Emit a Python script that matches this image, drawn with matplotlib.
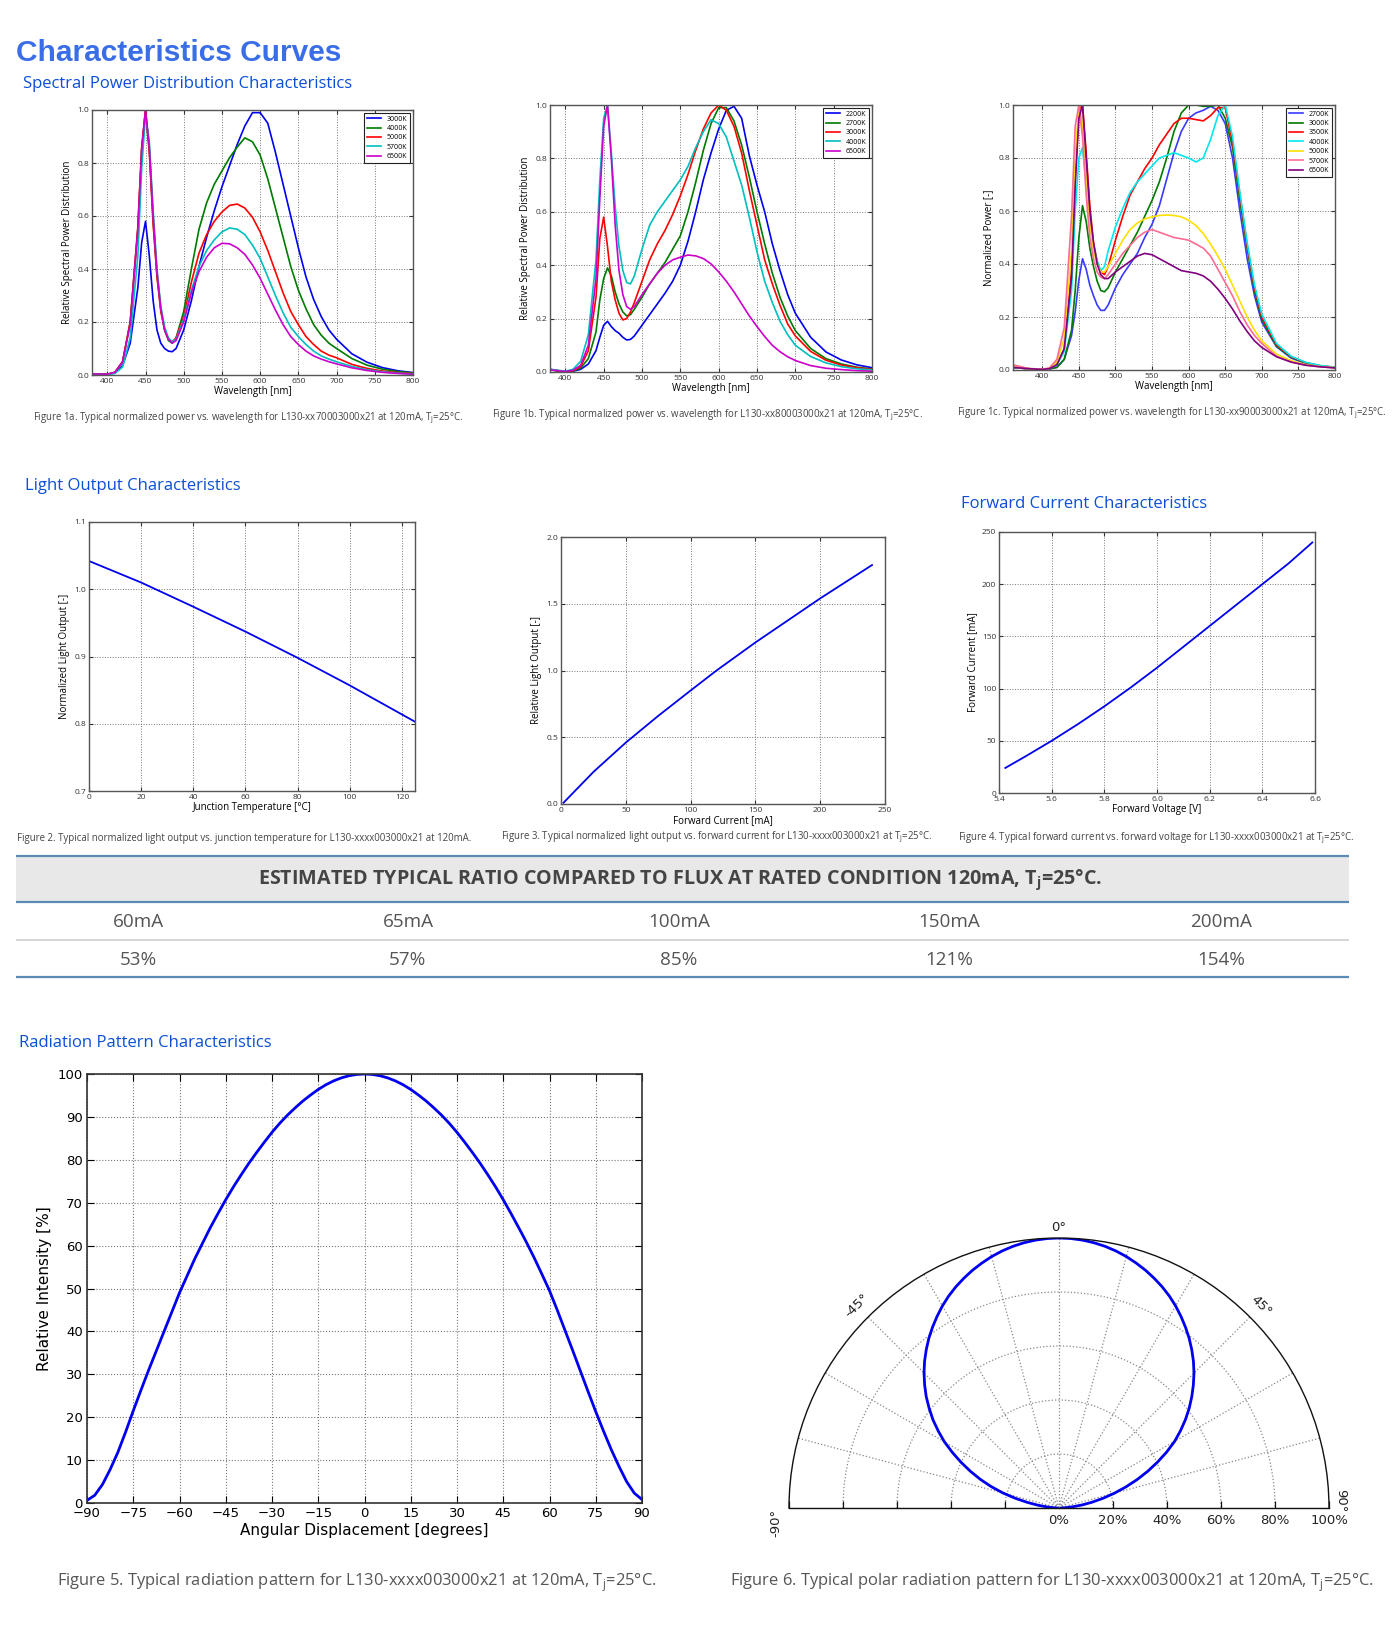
import matplotlib
matplotlib.use('Agg')
import matplotlib.pyplot as plt
import numpy as np
from matplotlib.patches import Rectangle

plt.rcParams['font.family'] = ['Open Sans', 'DejaVu Sans']
plt.rcParams['axes.unicode_minus'] = True

W, H = 1400, 1650

# ---------------- data ----------------
wl = [380, 400, 410, 420, 430, 440, 445, 450, 455, 460, 465, 470, 475, 480, 485, 490,
      500, 510, 520, 530, 540, 550, 560, 570, 580, 590, 600, 610, 620, 630, 640, 650,
      660, 670, 680, 690, 700, 720, 740, 760, 780, 800]
wl_c = [360] + wl

# figure 1a
cct_a = ['3000K', '4000K', '5000K', '5700K', '6500K']
col_a = ['#0000ee', '#007a00', '#ff0000', '#00bfbf', '#cc00cc']
spd_a = [
    [0.003, 0.002, 0.008, 0.035, 0.12, 0.33, 0.5, 0.58, 0.45, 0.28, 0.17, 0.12, 0.1, 0.09, 0.088, 0.1,
     0.17, 0.28, 0.41, 0.52, 0.62, 0.71, 0.79, 0.87, 0.94, 0.99, 0.99, 0.95, 0.84, 0.72, 0.6, 0.48,
     0.37, 0.285, 0.22, 0.17, 0.135, 0.08, 0.048, 0.028, 0.016, 0.009],
    [0.004, 0.003, 0.01, 0.05, 0.2, 0.55, 0.85, 1.0, 0.85, 0.58, 0.38, 0.25, 0.17, 0.13, 0.12, 0.14,
     0.24, 0.4, 0.55, 0.65, 0.72, 0.77, 0.82, 0.86, 0.895, 0.88, 0.83, 0.74, 0.63, 0.52, 0.41, 0.32,
     0.25, 0.19, 0.15, 0.12, 0.1, 0.062, 0.037, 0.022, 0.013, 0.008],
    [0.004, 0.003, 0.01, 0.05, 0.2, 0.56, 0.86, 1.0, 0.84, 0.57, 0.37, 0.24, 0.17, 0.135, 0.125, 0.14,
     0.22, 0.35, 0.46, 0.53, 0.58, 0.615, 0.64, 0.645, 0.63, 0.595, 0.54, 0.47, 0.39, 0.31, 0.24, 0.19,
     0.145, 0.115, 0.09, 0.075, 0.065, 0.04, 0.025, 0.015, 0.009, 0.005],
    [0.003, 0.002, 0.006, 0.03, 0.14, 0.45, 0.78, 0.98, 0.88, 0.62, 0.4, 0.26, 0.18, 0.14, 0.125, 0.135,
     0.21, 0.32, 0.41, 0.47, 0.51, 0.54, 0.555, 0.55, 0.53, 0.49, 0.44, 0.37, 0.3, 0.235, 0.18, 0.145,
     0.115, 0.09, 0.072, 0.06, 0.05, 0.032, 0.02, 0.012, 0.007, 0.004],
    [0.004, 0.003, 0.01, 0.05, 0.19, 0.55, 0.85, 1.0, 0.86, 0.6, 0.39, 0.25, 0.17, 0.135, 0.12, 0.13,
     0.2, 0.31, 0.39, 0.445, 0.48, 0.497, 0.495, 0.48, 0.455, 0.415, 0.365, 0.305, 0.245, 0.19, 0.145, 0.115,
     0.09, 0.072, 0.06, 0.05, 0.042, 0.027, 0.017, 0.01, 0.006, 0.003],
]

# figure 1b
cct_b = ['2200K', '2700K', '3000K', '4000K', '6500K']
col_b = ['#0000ee', '#007a00', '#ff0000', '#00bfbf', '#cc00cc']
spd_b = [
    [0.01, 0.0, 0.003, 0.01, 0.03, 0.08, 0.13, 0.175, 0.19, 0.17, 0.155, 0.145, 0.13, 0.12, 0.122, 0.135,
     0.175, 0.215, 0.255, 0.295, 0.34, 0.4, 0.49, 0.6, 0.72, 0.82, 0.91, 0.98, 0.995, 0.95, 0.81, 0.7,
     0.6, 0.48, 0.38, 0.29, 0.22, 0.13, 0.075, 0.045, 0.027, 0.016],
    [0.008, 0.0, 0.004, 0.015, 0.05, 0.15, 0.27, 0.35, 0.39, 0.36, 0.3, 0.255, 0.225, 0.21, 0.215, 0.235,
     0.28, 0.33, 0.37, 0.41, 0.46, 0.51, 0.6, 0.71, 0.83, 0.93, 0.99, 0.99, 0.94, 0.85, 0.73, 0.6,
     0.48, 0.37, 0.28, 0.21, 0.155, 0.088, 0.05, 0.03, 0.018, 0.011],
    [0.01, 0.0, 0.005, 0.02, 0.08, 0.28, 0.5, 0.58, 0.47, 0.34, 0.27, 0.22, 0.195, 0.2, 0.225, 0.26,
     0.34, 0.42, 0.48, 0.53, 0.59, 0.66, 0.74, 0.83, 0.91, 0.97, 1.0, 0.98, 0.92, 0.82, 0.68, 0.55,
     0.42, 0.33, 0.25, 0.18, 0.135, 0.077, 0.044, 0.026, 0.016, 0.01],
    [0.01, 0.003, 0.01, 0.04, 0.14, 0.42, 0.72, 0.95, 1.0, 0.82, 0.62, 0.47, 0.38, 0.335, 0.33, 0.36,
     0.46, 0.55, 0.6, 0.64, 0.68, 0.72, 0.77, 0.84, 0.9, 0.945, 0.93, 0.88, 0.79, 0.7, 0.58, 0.45,
     0.34, 0.26, 0.19, 0.14, 0.1, 0.058, 0.034, 0.02, 0.012, 0.008],
    [0.008, 0.002, 0.006, 0.025, 0.1, 0.35, 0.65, 0.92, 1.0, 0.8, 0.55, 0.38, 0.29, 0.245, 0.235, 0.245,
     0.29, 0.33, 0.37, 0.4, 0.42, 0.43, 0.438, 0.435, 0.425, 0.405, 0.375, 0.34, 0.3, 0.255, 0.21, 0.17,
     0.133, 0.1, 0.076, 0.057, 0.043, 0.024, 0.014, 0.009, 0.005, 0.003],
]

# figure 1c
cct_c = ['2700K', '3000K', '3500K', '4000K', '5000K', '5700K', '6500K']
col_c = ['#3a3aff', '#007a00', '#ff0000', '#00e8ee', '#ffe000', '#ff6b93', '#800080']
spd_c = [
    [0.01, 0.005, 0.002, 0.004, 0.01, 0.04, 0.13, 0.22, 0.34, 0.42, 0.38, 0.32, 0.28, 0.245, 0.225, 0.225, 0.245,
     0.31, 0.36, 0.4, 0.44, 0.5, 0.55, 0.62, 0.72, 0.82, 0.9, 0.95, 0.97, 0.98, 0.995, 0.98, 0.93,
     0.8, 0.6, 0.42, 0.28, 0.18, 0.088, 0.045, 0.025, 0.014, 0.009],
    [0.01, 0.005, 0.002, 0.004, 0.01, 0.04, 0.15, 0.3, 0.5, 0.62, 0.56, 0.46, 0.39, 0.335, 0.3, 0.295, 0.31,
     0.37, 0.42, 0.47, 0.52, 0.58, 0.64, 0.71, 0.8, 0.9, 0.97, 1.0, 1.0, 0.995, 0.995, 1.0, 0.95,
     0.84, 0.64, 0.46, 0.3, 0.19, 0.09, 0.048, 0.027, 0.015, 0.01],
    [0.01, 0.005, 0.002, 0.005, 0.02, 0.08, 0.38, 0.72, 0.98, 1.0, 0.82, 0.62, 0.48, 0.41, 0.37, 0.36, 0.39,
     0.49, 0.58, 0.66, 0.71, 0.76, 0.8, 0.85, 0.89, 0.93, 0.95, 0.95, 0.945, 0.94, 0.96, 0.99, 0.99,
     0.86, 0.66, 0.47, 0.31, 0.2, 0.095, 0.05, 0.028, 0.016, 0.01],
    [0.01, 0.005, 0.002, 0.005, 0.02, 0.07, 0.3, 0.6, 0.8, 0.84, 0.7, 0.56, 0.47, 0.41, 0.375, 0.39, 0.45,
     0.54, 0.61, 0.67, 0.71, 0.74, 0.77, 0.8, 0.81, 0.82, 0.81, 0.8, 0.785, 0.8, 0.87, 0.96, 1.0,
     0.88, 0.67, 0.48, 0.32, 0.21, 0.1, 0.052, 0.029, 0.017, 0.011],
    [0.012, 0.005, 0.002, 0.006, 0.03, 0.12, 0.45, 0.8, 1.0, 0.93, 0.72, 0.55, 0.45, 0.4, 0.37, 0.37, 0.39,
     0.44, 0.49, 0.53, 0.555, 0.57, 0.578, 0.583, 0.585, 0.583, 0.578, 0.565, 0.545, 0.515, 0.475, 0.43, 0.38,
     0.32, 0.26, 0.2, 0.15, 0.11, 0.06, 0.035, 0.02, 0.013, 0.009],
    [0.02, 0.006, 0.003, 0.008, 0.04, 0.16, 0.58, 0.92, 1.0, 0.88, 0.66, 0.5, 0.42, 0.37, 0.35, 0.345, 0.36,
     0.4, 0.44, 0.47, 0.5, 0.52, 0.53, 0.52, 0.51, 0.5, 0.495, 0.49, 0.475, 0.46, 0.43, 0.38, 0.33,
     0.28, 0.22, 0.17, 0.13, 0.1, 0.052, 0.03, 0.018, 0.012, 0.008],
    [0.01, 0.005, 0.002, 0.005, 0.02, 0.08, 0.35, 0.7, 0.95, 1.0, 0.8, 0.6, 0.48, 0.4, 0.36, 0.345, 0.345,
     0.37, 0.39, 0.41, 0.43, 0.44, 0.435, 0.42, 0.405, 0.39, 0.375, 0.37, 0.365, 0.355, 0.335, 0.305, 0.27,
     0.23, 0.185, 0.145, 0.11, 0.085, 0.05, 0.03, 0.018, 0.012, 0.008],
]

# figure 2: light output vs junction temperature
tj = [0, 20, 40, 60, 80, 100, 125]
flux_tj = [1.042, 1.010, 0.974, 0.937, 0.898, 0.857, 0.803]

# figure 3: light output vs forward current
if_ma = [2, 25, 50, 75, 100, 120, 150, 200, 240]
flux_if = [0.01, 0.24, 0.46, 0.66, 0.85, 1.0, 1.21, 1.54, 1.79]

# figure 4: forward current vs forward voltage
vf = [5.424, 5.5, 5.6, 5.7, 5.8, 5.9, 6.0, 6.1, 6.2, 6.3, 6.4, 6.5, 6.59]
if_vf = [24, 35, 50, 66, 83, 101, 120, 140, 160, 180, 200, 220, 240]

# table
tbl_current = ['60mA', '65mA', '100mA', '150mA', '200mA']
tbl_ratio = ['53%', '57%', '85%', '121%', '154%']

# figure 5/6: radiation pattern (2.5 degree steps)
angle = [-90, -87.5, -85, -82.5, -80, -77.5, -75, -72.5, -70, -67.5, -65, -62.5, -60, -57.5, -55, -52.5,
         -50, -47.5, -45, -42.5, -40, -37.5, -35, -32.5, -30, -27.5, -25, -22.5, -20, -17.5, -15, -12.5,
         -10, -7.5, -5, -2.5, 0, 2.5, 5, 7.5, 10, 12.5, 15, 17.5, 20, 22.5, 25, 27.5, 30, 32.5, 35, 37.5,
         40, 42.5, 45, 47.5, 50, 52.5, 55, 57.5, 60, 62.5, 65, 67.5, 70, 72.5, 75, 77.5, 80, 82.5, 85, 87.5, 90]
intensity = [0.6, 1.8, 4.3, 7.8, 11.8, 16.5, 21.5, 26.3, 31.0, 35.5, 40.0, 44.5, 49.0, 53.0, 57.0, 60.6,
             64.2, 67.5, 70.7, 73.7, 76.5, 79.2, 81.7, 84.1, 86.4, 88.5, 90.4, 92.1, 93.7, 95.1, 96.4, 97.5,
             98.4, 99.1, 99.6, 99.9, 100, 99.9, 99.6, 99.1, 98.4, 97.5, 96.4, 95.1, 93.7, 92.1, 90.4, 88.5,
             86.4, 84.1, 81.7, 79.2, 76.5, 73.7, 70.7, 67.5, 64.2, 60.8, 57.2, 53.4, 49.5, 45.0, 40.3, 35.6,
             30.8, 26.0, 21.3, 16.8, 12.5, 8.6, 5.0, 2.3, 0.8]
radial_ticks = [20, 40, 60, 80, 100]

# ---------------- figure ----------------
fig = plt.figure(figsize=(14, 16.5), dpi=100)
bg = fig.add_axes([0, 0, 1, 1], zorder=-5)
bg.set_xlim(0, W)
bg.set_ylim(H, 0)
bg.axis('off')


def px_axes(l, t, r, b, **kw):
    return fig.add_axes([l / W, 1 - b / H, (r - l) / W, (b - t) / H], **kw)


def classic(ax, fs=6):
    ax.grid(True, ls=':', color='#777777', lw=0.7)
    ax.tick_params(direction='in', labelsize=fs, length=3, top=True, right=True,
                   colors='#333333', pad=2)
    for s in ax.spines.values():
        s.set_color('#555555')
        s.set_linewidth(1.0)


heading = '#0a4fd6'
cap_col = '#444444'
tj_txt = 'T$_\\mathregular{j}$=25°C.'

bg.text(16, 53, 'Characteristics Curves', fontsize=21.5, fontweight='bold', color='#3a6ee6',
        family='Liberation Sans', va='center')
bg.text(23, 84, 'Spectral Power Distribution Characteristics', fontsize=12, color=heading, va='center')
bg.text(25, 486, 'Light Output Characteristics', fontsize=12, color=heading, va='center')
bg.text(961, 504, 'Forward Current Characteristics', fontsize=12, color=heading, va='center')
bg.text(19, 1043, 'Radiation Pattern Characteristics', fontsize=12, color=heading, va='center')

# spectral plots
spec = [
    ((92, 110, 413, 375), wl, spd_a, cct_a, col_a, 380, 'Relative Spectral Power Distribution',
     (33, 418, 'Figure 1a. Typical normalized power vs. wavelength for L130-xx70003000x21 at 120mA, ' + tj_txt)),
    ((550, 105, 872, 372), wl, spd_b, cct_b, col_b, 380, 'Relative Spectral Power Distribution',
     (492, 415, 'Figure 1b. Typical normalized power vs. wavelength for L130-xx80003000x21 at 120mA, ' + tj_txt)),
    ((1013, 105, 1335, 370), wl_c, spd_c, cct_c, col_c, 360, 'Normalized Power [-]',
     (957, 413, 'Figure 1c. Typical normalized power vs. wavelength for L130-xx90003000x21 at 120mA, ' + tj_txt)),
]
for box, x, series, names, cols, x0, ylab, cap in spec:
    ax = px_axes(*box)
    for vals, name, c in zip(series, names, cols):
        ax.plot(x, vals, color=c, lw=1.2, label=name)
    ax.set_xlim(x0, 800)
    ax.set_ylim(0, 1.0)
    ax.set_xticks(range(400, 801, 50))
    ax.set_yticks(np.arange(0, 1.01, 0.2))
    ax.set_yticklabels(['%.1f' % v for v in np.arange(0, 1.01, 0.2)])
    classic(ax, 6)
    ax.set_xlabel('Wavelength [nm]', fontsize=7, labelpad=1)
    ax.set_ylabel(ylab, fontsize=7, labelpad=3)
    leg = ax.legend(loc='upper right', fontsize=5, fancybox=False, edgecolor='#222222',
                    handlelength=2.0, handletextpad=0.8, borderpad=0.4, labelspacing=0.35,
                    framealpha=1, borderaxespad=0.4)
    leg.get_frame().set_linewidth(0.8)
    bg.text(cap[0], cap[1], cap[2], fontsize=6.9, color=cap_col, va='center')

# figure 2
ax2 = px_axes(89, 522, 415, 791)
ax2.plot(tj, flux_tj, color='#0000ee', lw=1.3)
ax2.set_xlim(0, 125)
ax2.set_ylim(0.7, 1.1)
ax2.set_xticks(range(0, 121, 20))
ax2.set_yticks([0.7, 0.8, 0.9, 1.0, 1.1])
classic(ax2, 6)
ax2.set_xlabel('Junction Temperature [°C]', fontsize=7, labelpad=1)
ax2.set_ylabel('Normalized Light Output [-]', fontsize=7, labelpad=3)
bg.text(17, 838, 'Figure 2. Typical normalized light output vs. junction temperature for L130-xxxx003000x21 at 120mA.',
        fontsize=6.9, color=cap_col, va='center')

# figure 3
ax3 = px_axes(561, 537, 885, 804)
ax3.plot(if_ma, flux_if, color='#0000ee', lw=1.3)
ax3.set_xlim(0, 250)
ax3.set_ylim(0, 2.0)
ax3.set_xticks(range(0, 251, 50))
ax3.set_yticks([0, 0.5, 1.0, 1.5, 2.0])
ax3.set_yticklabels(['0.0', '0.5', '1.0', '1.5', '2.0'])
classic(ax3, 6)
ax3.set_xlabel('Forward Current [mA]', fontsize=7, labelpad=1)
ax3.set_ylabel('Relative Light Output [-]', fontsize=7, labelpad=3)
bg.text(501, 837, 'Figure 3. Typical normalized light output vs. forward current for L130-xxxx003000x21 at ' + tj_txt,
        fontsize=6.9, color=cap_col, va='center')

# figure 4
ax4 = px_axes(999, 532, 1315, 793)
ax4.plot(vf, if_vf, color='#0000ee', lw=1.3)
ax4.set_xlim(5.4, 6.6)
ax4.set_ylim(0, 250)
ax4.set_xticks(np.arange(5.4, 6.61, 0.2))
ax4.set_xticklabels(['%.1f' % v for v in np.arange(5.4, 6.61, 0.2)])
ax4.set_yticks(range(0, 251, 50))
classic(ax4, 6)
ax4.set_xlabel('Forward Voltage [V]', fontsize=7, labelpad=1)
ax4.set_ylabel('Forward Current [mA]', fontsize=7, labelpad=3)
bg.text(958, 838, 'Figure 4. Typical forward current vs. forward voltage for L130-xxxx003000x21 at ' + tj_txt,
        fontsize=6.9, color=cap_col, va='center')

# table
line_col = '#5a8ab5'
bg.add_patch(Rectangle((16, 856), 1333, 46, facecolor='#e8e8e8', edgecolor='none'))
for yy, c, lw in [(856, line_col, 1.6), (902, line_col, 1.6), (940, '#cfcfcf', 1.2), (977, line_col, 1.6)]:
    bg.plot([16, 1349], [yy, yy], color=c, lw=lw, solid_capstyle='butt')
bg.text(680, 880, 'ESTIMATED TYPICAL RATIO COMPARED TO FLUX AT RATED CONDITION 120mA, ' + tj_txt,
        fontweight='bold', fontsize=14.2, color='#444444', ha='center', va='center')
col_x = [138, 408, 679, 949, 1221]
for cx, cur, rat in zip(col_x, tbl_current, tbl_ratio):
    bg.text(cx, 922, cur, fontsize=13.6, color='#555555', ha='center', va='center')
    bg.text(cx, 960, rat, fontsize=13.6, color='#555555', ha='center', va='center')

# figure 5
ax5 = px_axes(87, 1074, 642, 1503)
ax5.plot(angle, intensity, color='#0000ee', lw=2)
ax5.set_xlim(-90, 90)
ax5.set_ylim(0, 100)
ax5.set_xticks(range(-90, 91, 15))
ax5.set_yticks(range(0, 101, 10))
ax5.grid(True, ls=':', color='#777777', lw=0.8)
ax5.tick_params(direction='in', labelsize=9.5, length=5, top=True, right=True, pad=3)
for lab in ax5.get_xticklabels() + ax5.get_yticklabels():
    lab.set_family('DejaVu Sans')
for s in ax5.spines.values():
    s.set_color('#333333')
    s.set_linewidth(1.2)
ax5.set_xlabel('Angular Displacement [degrees]', fontsize=11, family='DejaVu Sans', labelpad=2)
ax5.set_ylabel('Relative Intensity [%]', fontsize=11, family='DejaVu Sans', labelpad=4)
bg.text(57, 1583, 'Figure 5. Typical radiation pattern for L130-xxxx003000x21 at 120mA, ' + tj_txt,
        fontsize=11.9, color='#555555', va='center')

# figure 6 (polar) - square box, the half wedge is centred in it
ax6 = px_axes(789, 1103, 1329, 1643, projection='polar')
ax6.set_theta_zero_location('N')
ax6.set_theta_direction(-1)
ax6.set_thetamin(-90)
ax6.set_thetamax(90)
ax6.plot(np.deg2rad(angle), intensity, color='#0000ee', lw=2)
ax6.set_rlim(0, 100)
ax6.set_thetagrids(range(-90, 91, 15), labels=[''] * 13)
ax6.set_rgrids([20, 40, 60, 80], labels=[''] * 4)
ax6.grid(True, ls=':', color='#888888', lw=0.9)
ax6.tick_params(axis='x', direction='in', length=5)
for s in ax6.spines.values():
    s.set_color('#111111')
    s.set_linewidth(1.0)
# small tick marks along the base line
for side in (-np.pi / 2, np.pi / 2):
    ax6.plot([side] * len(radial_ticks), radial_ticks, ls='none', marker=2, ms=5,
             mew=0.9, color='#111111', clip_on=False)
pf = dict(family='DejaVu Sans', fontsize=9.5, color='#222222', ha='center', va='center')
ax6.text(0, 104, '0°', **pf)
ax6.text(np.deg2rad(45), 106, '45°', rotation=-45, **pf)
ax6.text(np.deg2rad(-45), 106, '-45°', rotation=45, **pf)
ax6.text(np.deg2rad(88.5), 104.5, '90°', rotation=-90, **pf)
ax6.text(np.deg2rad(-93), 105, '-90°', rotation=90, **pf)
for r in [0] + radial_ticks:
    ax6.annotate('%d%%' % r, xy=(np.pi / 2, r), xytext=(0, -4), textcoords='offset points',
                 family='DejaVu Sans', fontsize=9.5, color='#222222', ha='center', va='top',
                 annotation_clip=False)
bg.text(730, 1583, 'Figure 6. Typical polar radiation pattern for L130-xxxx003000x21 at 120mA, ' + tj_txt,
        fontsize=11.9, color='#555555', va='center')

fig.savefig('out.png', dpi=100, facecolor='white')
